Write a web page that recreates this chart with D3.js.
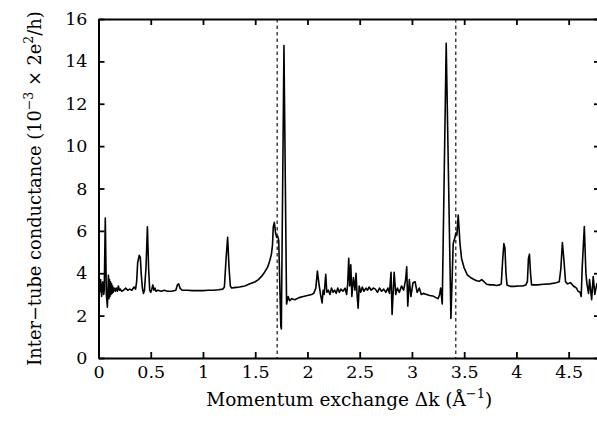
<!DOCTYPE html>
<html>
<head>
<meta charset="utf-8">
<script src="https://cdn.jsdelivr.net/npm/d3@7"></script>
<style>
html,body{margin:0;padding:0;background:#fff;}
svg{display:block;}
</style>
</head>
<body>
<svg id="chart" width="597" height="433"></svg>
<script>
// Momentum exchange Δk (Å^-1)
const dk = [0.000,0.010,0.020,0.030,0.040,0.050,0.055,0.065,0.075,0.085,0.095,0.100,0.105,0.110,0.115,0.120,0.125,0.130,0.135,0.140,0.150,0.160,0.170,0.180,0.190,0.200,0.210,0.220,0.240,0.260,0.280,0.300,0.320,0.340,0.355,0.365,0.375,0.390,0.400,0.410,0.420,0.430,0.440,0.455,0.468,0.480,0.490,0.500,0.510,0.520,0.530,0.540,0.550,0.570,0.600,0.630,0.660,0.700,0.740,0.755,0.767,0.780,0.800,0.850,0.900,0.950,1.000,1.050,1.100,1.150,1.190,1.205,1.220,1.236,1.250,1.262,1.275,1.300,1.350,1.400,1.450,1.500,1.530,1.560,1.590,1.620,1.640,1.655,1.665,1.673,1.683,1.695,1.705,1.715,1.725,1.745,1.750,1.775,1.800,1.815,1.830,1.850,1.880,1.920,1.960,2.000,2.040,2.060,2.080,2.095,2.110,2.125,2.140,2.150,2.160,2.175,2.185,2.200,2.215,2.230,2.245,2.260,2.275,2.290,2.305,2.320,2.340,2.360,2.375,2.385,2.395,2.405,2.415,2.425,2.440,2.455,2.465,2.475,2.485,2.495,2.510,2.525,2.540,2.560,2.575,2.590,2.610,2.630,2.650,2.670,2.690,2.710,2.730,2.750,2.770,2.785,2.800,2.810,2.830,2.845,2.860,2.880,2.900,2.920,2.940,2.950,2.960,2.975,2.990,3.010,3.030,3.050,3.070,3.090,3.110,3.140,3.170,3.200,3.230,3.250,3.265,3.275,3.290,3.328,3.373,3.395,3.410,3.420,3.430,3.443,3.460,3.475,3.500,3.530,3.560,3.590,3.620,3.645,3.667,3.690,3.715,3.750,3.780,3.810,3.840,3.855,3.868,3.880,3.890,3.900,3.910,3.940,3.980,4.020,4.060,4.090,4.105,4.115,4.125,4.135,4.145,4.200,4.260,4.320,4.380,4.410,4.425,4.440,4.455,4.470,4.490,4.520,4.545,4.560,4.575,4.590,4.610,4.620,4.630,4.650,4.665,4.675,4.690,4.700,4.720,4.735,4.750,4.770,4.790];
// Inter-tube conductance (10^-3 x 2e^2/h)
const conductance = [3.40,3.10,3.70,2.90,3.60,3.00,3.20,6.60,3.00,2.40,3.90,2.80,3.70,2.90,3.60,3.00,3.50,3.05,3.40,3.10,3.30,3.15,3.30,3.15,3.40,3.20,3.25,3.15,3.20,3.30,3.20,3.25,3.20,3.35,3.25,3.60,4.50,4.85,4.75,3.90,3.30,3.05,3.20,4.30,6.19,4.20,3.20,3.10,3.25,3.45,3.20,3.30,3.15,3.20,3.15,3.20,3.15,3.15,3.20,3.45,3.50,3.30,3.20,3.20,3.18,3.18,3.18,3.20,3.20,3.22,3.25,3.35,4.60,5.70,4.20,3.40,3.30,3.32,3.35,3.40,3.50,3.60,3.70,3.85,4.05,4.30,4.60,4.90,5.30,6.20,6.40,5.90,5.70,5.75,5.55,1.50,1.37,14.75,2.55,2.90,2.70,2.80,2.75,2.85,2.90,2.95,3.00,3.05,3.30,4.10,3.50,3.00,2.60,3.20,3.00,3.95,3.10,3.20,3.00,3.30,3.10,3.20,3.05,3.30,3.10,3.25,3.15,3.30,3.00,3.50,4.70,3.40,4.40,2.90,3.80,3.20,4.00,3.00,2.35,3.40,3.10,3.35,3.15,3.30,3.20,3.35,3.20,3.30,3.25,3.10,3.30,3.15,3.25,3.10,3.30,3.05,4.05,2.05,4.05,3.00,3.30,3.10,3.40,3.20,3.70,4.30,2.45,3.70,2.90,3.55,3.60,3.10,3.30,3.00,3.05,3.00,2.95,2.93,2.85,2.80,3.00,3.30,2.55,14.85,1.87,5.40,5.65,5.90,5.80,6.75,5.40,4.70,4.25,3.92,3.80,3.72,3.65,3.62,3.70,3.60,3.48,3.45,3.45,3.42,3.45,3.50,4.60,5.40,5.20,4.00,3.45,3.38,3.38,3.40,3.40,3.45,3.60,4.70,4.90,4.00,3.45,3.45,3.48,3.50,3.55,3.60,4.20,5.45,4.60,3.60,3.50,3.55,3.40,3.35,3.30,3.15,3.10,2.90,4.30,6.20,4.00,3.50,3.05,3.70,2.75,3.85,3.00,3.50,3.30];
const xTicks = [0,0.5,1,1.5,2,2.5,3,3.5,4,4.5];
const xTickLabels = ["0","0.5","1","1.5","2","2.5","3","3.5","4","4.5"];
const yTicks = [0,2,4,6,8,10,12,14,16];
const yTickLabels = ["0","2","4","6","8","10","12","14","16"];
const gapMarkers = [1.71, 3.42];

const FONT = "'DejaVu Serif', serif";
const svg = d3.select("#chart");
const L = 98.5, R = 600, T = 19, B = 358;
const x = d3.scaleLinear().domain([0, 4.8]).range([L, R]);
const y = d3.scaleLinear().domain([0, 16]).range([B, T]);

svg.append("defs").append("clipPath").attr("id","clip")
  .append("rect").attr("x",L).attr("y",T).attr("width",R-L).attr("height",B-T);

// dashed markers
svg.append("g").selectAll("line").data(gapMarkers).join("line")
  .attr("x1", d => x(d)).attr("x2", d => x(d))
  .attr("y1", T).attr("y2", B)
  .attr("stroke","#000").attr("stroke-width",1.1)
  .attr("stroke-dasharray","3.5,3");

// line
const pts = dk.map((d,i) => [d, conductance[i]]);
svg.append("path").datum(pts)
  .attr("clip-path","url(#clip)")
  .attr("fill","none").attr("stroke","#000").attr("stroke-width",1.6)
  .attr("stroke-linejoin","round")
  .attr("d", d3.line().x(d => x(d[0])).y(d => y(d[1])));

function styleAxis(g){
  g.attr("font-family", FONT).attr("font-size", 17.5);
  g.selectAll(".domain").attr("stroke","#000").attr("stroke-width",2);
  g.selectAll(".tick line").attr("stroke","#000").attr("stroke-width",1.8);
  g.selectAll("text").attr("fill","#000");
}

const xAxis = d3.axisBottom(x).tickValues(xTicks).tickFormat((d,i)=>xTickLabels[i]).tickSize(-6).tickSizeOuter(0).tickPadding(8);
svg.append("g").attr("transform",`translate(0,${B})`).call(xAxis).call(styleAxis);

const xAxisTop = d3.axisTop(x).tickValues(xTicks).tickFormat("").tickSize(-6).tickSizeOuter(0);
svg.append("g").attr("transform",`translate(0,${T})`).call(xAxisTop).call(styleAxis);

const yAxis = d3.axisLeft(y).tickValues(yTicks).tickFormat((d,i)=>yTickLabels[i]).tickSize(-6).tickSizeOuter(0).tickPadding(11);
svg.append("g").attr("transform",`translate(${L},0)`).call(yAxis).call(styleAxis);

const yAxisR = d3.axisRight(y).tickValues(yTicks).tickFormat("").tickSize(-6).tickSizeOuter(0);
svg.append("g").attr("transform",`translate(${R},0)`).call(yAxisR).call(styleAxis);

// x label
const xl = svg.append("text").attr("x",(L+R)/2).attr("y",406).attr("text-anchor","middle")
  .attr("font-family",FONT).attr("font-size",18.5);
xl.append("tspan").text("Momentum exchange Δk (Å");
xl.append("tspan").attr("dy",-8).attr("font-size",13).text("−1");
xl.append("tspan").attr("dy",8).text(")");

// y label
const yl = svg.append("text").attr("transform",`translate(41,${(T+B)/2}) rotate(-90)`).attr("text-anchor","middle")
  .attr("font-family",FONT).attr("font-size",17.8);
yl.append("tspan").text("Inter−tube conductance (10");
yl.append("tspan").attr("dy",-8).attr("font-size",12.5).text("−3");
yl.append("tspan").attr("dy",8).text(" × 2e");
yl.append("tspan").attr("dy",-8).attr("font-size",12.5).text("2");
yl.append("tspan").attr("dy",8).text("/h)");
</script>
</body>
</html>
